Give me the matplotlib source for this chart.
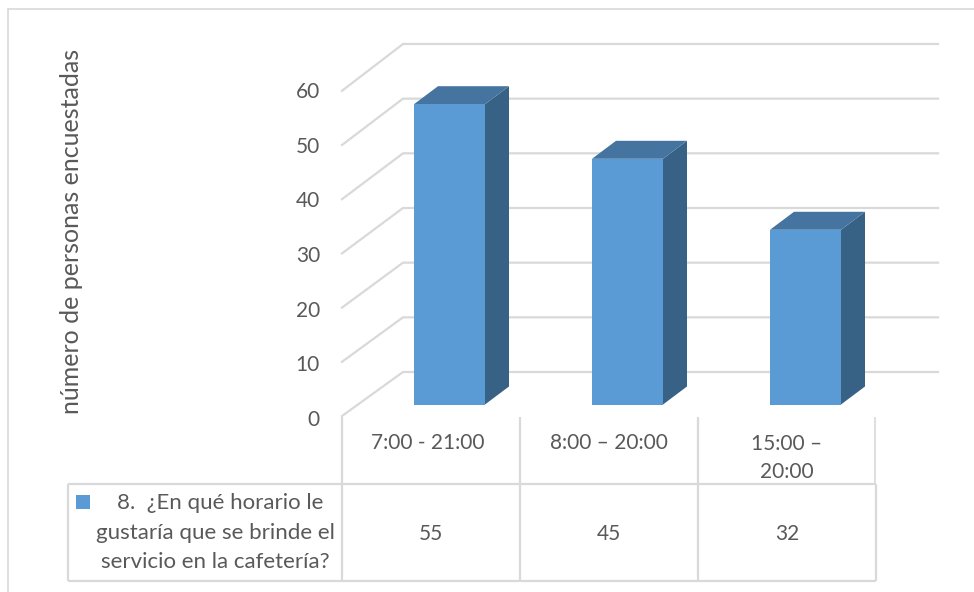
import matplotlib
matplotlib.use('Agg')
import matplotlib.pyplot as plt
from matplotlib.patches import Polygon, Rectangle
from matplotlib.transforms import Affine2D

horarios = ['7:00 - 21:00', '8:00 – 20:00', '15:00 –\n20:00']
respuestas = [55, 45, 32]
ticks = [0, 10, 20, 30, 40, 50, 60]
serie = ['8.  ¿En qué horario le', 'gustaría que se brinde el', 'servicio en la cafetería?']
ylabel = 'número de personas encuestadas'

W, H = 974, 592
TXT = '#595959'
GRID = '#d9d9d9'
FRONT = '#5b9bd5'
TOP = '#44749f'
SIDE = '#376286'

plt.rcParams['font.family'] = ['Lato', 'DejaVu Sans']

fig = plt.figure(figsize=(W / 100, H / 100), dpi=100)
ax = fig.add_axes([0, 0, 1, 1])

# one category = 178 px, one unit = 5.46 px, zero of the bars sits at y=404.5
xu, yu = 178.0, 5.46
ax.set_xlim(-431 / xu, (W - 431) / xu)
ax.set_ylim((404.5 - H) / yu, 404.5 / yu)
ax.axis('off')

# pixel coordinates from the top left, for the frame and the table
px = Affine2D().scale(1, -1).translate(0, H)


def hline(x0, x1, y, lw=1.6):
    ax.plot([x0, x1], [y, y], color=GRID, lw=lw, transform=px, solid_capstyle='butt', zorder=1)


def vline(x, y0, y1, lw=1.6):
    ax.plot([x, x], [y0, y1], color=GRID, lw=lw, transform=px, solid_capstyle='butt', zorder=1)


# chart frame, the right and bottom sides run off the canvas
hline(7.5, W, 8.5, lw=1.2)
vline(8, 8, H, lw=1.2)

# floor and wall gridlines
for t in ticks:
    yf = 416 - t * 5.42
    yb = 372 - t * 5.467
    ax.plot([342, 403, 938], [yf, yb, yb], color=GRID, lw=1.6, transform=px, zorder=1)
    ax.text(320, 420 - t * 5.467, str(t), ha='right', va='center', fontsize=15, color=TXT, transform=px)

# 3d bars
half = 35.5 / xu
dx, dy = 24 / xu, 18 / yu
shift = 18.5 / xu
for i, v in enumerate(respuestas):
    x0, x1 = i + shift - half, i + shift + half
    ax.add_patch(Polygon([(x1, 0), (x1 + dx, dy), (x1 + dx, v + dy), (x1, v)], fc=SIDE, ec='none', zorder=3))
    ax.add_patch(Polygon([(x0, v), (x1, v), (x1 + dx, v + dy), (x0 + dx, v + dy)], fc=TOP, ec='none', zorder=3))
    ax.add_patch(Rectangle((x0, 0), x1 - x0, v, fc=FRONT, ec='none', zorder=4))

# data table
hline(68, 876, 484)
hline(68, 876, 580.5)
vline(68, 484, 580.5)
vline(876, 484, 580.5)
for x in (342, 520, 698):
    vline(x, 417, 580.5)
vline(875, 417, 484, lw=1.2)

for i, (h, v) in enumerate(zip(horarios, respuestas)):
    xc = 431 + xu * i - (3 if i == 0 else 0)
    ax.text(xc, 443 if i < 2 else 458, h, ha='center', va='center', fontsize=15, color=TXT,
            transform=px, linespacing=1.5)
    ax.text(431 + xu * i, 534, str(v), ha='center', va='center', fontsize=15, color=TXT, transform=px)

# legend key and series name in the first table cell
ax.add_patch(Rectangle((76, 495), 14, 14, fc=FRONT, ec='none', transform=px))
for linea, xc, yc in zip(serie, [220, 215, 215], [503, 533, 562]):
    ax.text(xc, yc, linea, ha='center', va='center', fontsize=16, color=TXT, transform=px)

ax.text(71.5, 231, ylabel, rotation=90, ha='center', va='center', fontsize=18, color=TXT, transform=px)

fig.savefig('out.png', dpi=100, facecolor='white')
